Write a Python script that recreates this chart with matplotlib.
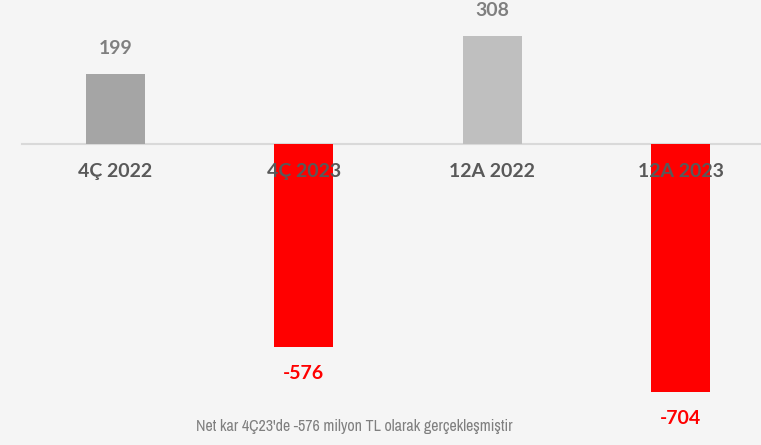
import matplotlib.pyplot as plt
from matplotlib import font_manager
import numpy as np

BG = "#f5f5f5"

kategoriler = ["4Ç 2022", "4Ç 2023", "12A 2022", "12A 2023"]
net_kar = [199, -576, 308, -704]
renkler = ["#a5a5a5", "#ff0000", "#bfbfbf", "#ff0000"]
etiket_renk = ["#7f7f7f", "#ff0000", "#7f7f7f", "#ff0000"]
alt_yazi = "Net kar 4Ç23'de -576 milyon TL olarak gerçekleşmiştir"

fig = plt.figure(figsize=(7.61, 4.45), dpi=100, facecolor=BG)
ax = fig.add_axes([0, 0, 1, 1])
ax.set_facecolor(BG)

x = np.arange(len(kategoriler))
ax.bar(x, net_kar, width=0.313, color=renkler, zorder=2)

# eksen ayarları (pikselden veri birimine)
ax.set_xlim(-0.6133, 3.4274)
ax.set_ylim(-855, 409)
ax.axhline(0, xmin=22 / 761, xmax=1, color="#d9d9d9", linewidth=1.5, zorder=1)
for s in ax.spines.values():
    s.set_visible(False)
ax.set_xticks([])
ax.set_yticks([])

# değer etiketleri
for xi, v, c in zip(x, net_kar, etiket_renk):
    off = 25 if v > 0 else -27
    ax.annotate(f"{v}", (xi, v), xytext=(0, off * 0.72), textcoords="offset points",
                ha="center", va="center", fontsize=14, fontweight="bold",
                color=c, family="Lato", zorder=4)

# kategori etiketleri (barların üstünde)
for xi, k in zip(x, kategoriler):
    ax.annotate(k, (xi, 0), xytext=(0, -28 * 0.72), textcoords="offset points",
                ha="center", va="center", fontsize=14, fontweight="bold",
                color="#595959", family="Lato", zorder=5)

# dar yazı tipi varsa alt yazıda onu kullan
adlar = sorted({f.name for f in font_manager.fontManager.ttflist})
dar = [a for a in adlar if "Narrow" in a or "Condensed" in a]
aile = dar[:1] + ["DejaVu Sans"]
fig.text(354 / 761, 1 - 427 / 445, alt_yazi, ha="center", va="center",
         fontsize=11.5, color="#7f7f7f", family=aile, fontstretch="condensed")

plt.savefig("out.png", dpi=100, facecolor=BG)
